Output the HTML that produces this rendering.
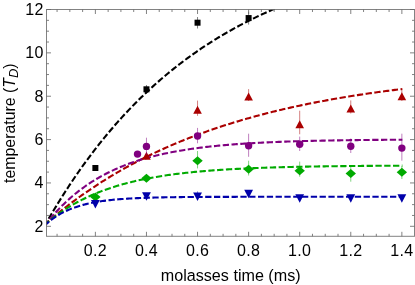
<!DOCTYPE html><html><head><meta charset="utf-8"><style>html,body{margin:0;padding:0;background:#fff;width:415px;height:285px;overflow:hidden}</style></head><body><svg width="415" height="285" viewBox="0 0 415 285" style="position:absolute;left:0;top:0;will-change:transform;opacity:0.999">
<defs><clipPath id="c"><rect x="46.5" y="9.5" width="368.0" height="226.8"/></clipPath></defs>
<rect width="415" height="285" fill="#fff"/>
<g clip-path="url(#c)" fill="none" stroke-width="2.1" stroke-dasharray="6.3 2.5">
<path d="M44.30 226.43 L45.79 223.81 L47.28 221.21 L48.78 218.63 L50.27 216.08 L51.76 213.55 L53.25 211.04 L54.74 208.56 L56.24 206.09 L57.73 203.66 L59.22 201.24 L60.71 198.85 L62.20 196.47 L63.70 194.12 L65.19 191.79 L66.68 189.48 L68.17 187.20 L69.66 184.93 L71.16 182.69 L72.65 180.46 L74.14 178.26 L75.63 176.07 L77.12 173.91 L78.62 171.76 L80.11 169.64 L81.60 167.53 L83.09 165.44 L84.58 163.38 L86.07 161.33 L87.57 159.30 L89.06 157.29 L90.55 155.29 L92.04 153.32 L93.53 151.36 L95.03 149.42 L96.52 147.50 L98.01 145.60 L99.50 143.71 L100.99 141.84 L102.49 139.99 L103.98 138.16 L105.47 136.34 L106.96 134.53 L108.45 132.75 L109.95 130.98 L111.44 129.23 L112.93 127.49 L114.42 125.77 L115.91 124.06 L117.41 122.37 L118.90 120.70 L120.39 119.04 L121.88 117.40 L123.37 115.77 L124.87 114.15 L126.36 112.55 L127.85 110.97 L129.34 109.40 L130.83 107.84 L132.33 106.30 L133.82 104.77 L135.31 103.26 L136.80 101.76 L138.29 100.27 L139.79 98.80 L141.28 97.34 L142.77 95.90 L144.26 94.46 L145.75 93.04 L147.25 91.64 L148.74 90.24 L150.23 88.86 L151.72 87.49 L153.21 86.14 L154.71 84.79 L156.20 83.46 L157.69 82.14 L159.18 80.84 L160.67 79.54 L162.16 78.26 L163.66 76.99 L165.15 75.73 L166.64 74.48 L168.13 73.24 L169.62 72.01 L171.12 70.80 L172.61 69.60 L174.10 68.40 L175.59 67.22 L177.08 66.05 L178.58 64.89 L180.07 63.74 L181.56 62.60 L183.05 61.47 L184.54 60.36 L186.04 59.25 L187.53 58.15 L189.02 57.06 L190.51 55.98 L192.00 54.91 L193.50 53.86 L194.99 52.81 L196.48 51.77 L197.97 50.74 L199.46 49.72 L200.96 48.71 L202.45 47.70 L203.94 46.71 L205.43 45.73 L206.92 44.75 L208.42 43.79 L209.91 42.83 L211.40 41.88 L212.89 40.94 L214.38 40.01 L215.88 39.09 L217.37 38.17 L218.86 37.27 L220.35 36.37 L221.84 35.48 L223.34 34.60 L224.83 33.73 L226.32 32.86 L227.81 32.01 L229.30 31.16 L230.80 30.31 L232.29 29.48 L233.78 28.65 L235.27 27.83 L236.76 27.02 L238.26 26.22 L239.75 25.42 L241.24 24.63 L242.73 23.85 L244.22 23.08 L245.71 22.31 L247.21 21.55 L248.70 20.79 L250.19 20.05 L251.68 19.31 L253.17 18.57 L254.67 17.85 L256.16 17.13 L257.65 16.41 L259.14 15.71 L260.63 15.00 L262.13 14.31 L263.62 13.62 L265.11 12.94 L266.60 12.27 L268.09 11.60 L269.59 10.93 L271.08 10.28 L272.57 9.62 L274.06 8.98 L275.55 8.34 L277.05 7.71 L278.54 7.08 L280.03 6.46 L281.52 5.84 L283.01 5.23 L284.51 4.63 L286.00 4.03 L287.49 3.43 L288.98 2.84 L290.47 2.26 L291.97 1.68 L293.46 1.11 L294.95 0.54 L296.44 -0.02 L297.93 -0.58 L299.43 -1.13 L300.92 -1.68 L302.41 -2.22 L303.90 -2.76 L305.39 -3.29 L306.89 -3.81 L308.38 -4.34 L309.87 -4.85 L311.36 -5.37 L312.85 -5.88 L314.35 -6.38 L315.84 -6.88 L317.33 -7.37 L318.82 -7.86 L320.31 -8.35 L321.80 -8.83 L323.30 -9.31 L324.79 -9.78 L326.28 -10.25 L327.77 -10.71 L329.26 -11.17 L330.76 -11.63 L332.25 -12.08 L333.74 -12.52 L335.23 -12.97 L336.72 -13.41 L338.22 -13.84 L339.71 -14.27 L341.20 -14.70 L342.69 -15.12 L344.18 -15.54 L345.68 -15.96 L347.17 -16.37 L348.66 -16.78 L350.15 -17.18 L351.64 -17.58 L353.14 -17.98 L354.63 -18.37 L356.12 -18.76 L357.61 -19.15 L359.10 -19.53 L360.60 -19.91 L362.09 -20.28 L363.58 -20.65 L365.07 -21.02 L366.56 -21.39 L368.06 -21.75 L369.55 -22.11 L371.04 -22.46 L372.53 -22.82 L374.02 -23.17 L375.52 -23.51 L377.01 -23.85 L378.50 -24.19 L379.99 -24.53 L381.48 -24.86 L382.98 -25.19 L384.47 -25.52 L385.96 -25.85 L387.45 -26.17 L388.94 -26.49 L390.44 -26.80 L391.93 -27.11 L393.42 -27.42 L394.91 -27.73 L396.40 -28.03 L397.89 -28.34 L399.39 -28.63 L400.88 -28.93 L402.37 -29.22" stroke="#000000"/>
<path d="M44.30 224.78 L45.79 223.49 L47.28 222.21 L48.78 220.93 L50.27 219.67 L51.76 218.42 L53.25 217.18 L54.74 215.95 L56.24 214.73 L57.73 213.52 L59.22 212.32 L60.71 211.13 L62.20 209.94 L63.70 208.77 L65.19 207.61 L66.68 206.46 L68.17 205.32 L69.66 204.18 L71.16 203.06 L72.65 201.94 L74.14 200.84 L75.63 199.74 L77.12 198.65 L78.62 197.57 L80.11 196.50 L81.60 195.44 L83.09 194.39 L84.58 193.35 L86.07 192.31 L87.57 191.28 L89.06 190.27 L90.55 189.26 L92.04 188.25 L93.53 187.26 L95.03 186.27 L96.52 185.30 L98.01 184.33 L99.50 183.37 L100.99 182.41 L102.49 181.47 L103.98 180.53 L105.47 179.60 L106.96 178.68 L108.45 177.76 L109.95 176.85 L111.44 175.95 L112.93 175.06 L114.42 174.18 L115.91 173.30 L117.41 172.43 L118.90 171.56 L120.39 170.71 L121.88 169.86 L123.37 169.01 L124.87 168.18 L126.36 167.35 L127.85 166.53 L129.34 165.71 L130.83 164.90 L132.33 164.10 L133.82 163.31 L135.31 162.52 L136.80 161.74 L138.29 160.96 L139.79 160.19 L141.28 159.43 L142.77 158.67 L144.26 157.92 L145.75 157.17 L147.25 156.44 L148.74 155.70 L150.23 154.98 L151.72 154.26 L153.21 153.54 L154.71 152.83 L156.20 152.13 L157.69 151.43 L159.18 150.74 L160.67 150.06 L162.16 149.38 L163.66 148.70 L165.15 148.03 L166.64 147.37 L168.13 146.71 L169.62 146.06 L171.12 145.41 L172.61 144.77 L174.10 144.13 L175.59 143.50 L177.08 142.87 L178.58 142.25 L180.07 141.64 L181.56 141.03 L183.05 140.42 L184.54 139.82 L186.04 139.22 L187.53 138.63 L189.02 138.04 L190.51 137.46 L192.00 136.89 L193.50 136.31 L194.99 135.75 L196.48 135.18 L197.97 134.63 L199.46 134.07 L200.96 133.52 L202.45 132.98 L203.94 132.44 L205.43 131.90 L206.92 131.37 L208.42 130.85 L209.91 130.32 L211.40 129.81 L212.89 129.29 L214.38 128.78 L215.88 128.28 L217.37 127.77 L218.86 127.28 L220.35 126.78 L221.84 126.29 L223.34 125.81 L224.83 125.33 L226.32 124.85 L227.81 124.38 L229.30 123.91 L230.80 123.44 L232.29 122.98 L233.78 122.52 L235.27 122.07 L236.76 121.62 L238.26 121.17 L239.75 120.73 L241.24 120.29 L242.73 119.85 L244.22 119.42 L245.71 118.99 L247.21 118.57 L248.70 118.15 L250.19 117.73 L251.68 117.31 L253.17 116.90 L254.67 116.49 L256.16 116.09 L257.65 115.69 L259.14 115.29 L260.63 114.89 L262.13 114.50 L263.62 114.11 L265.11 113.73 L266.60 113.35 L268.09 112.97 L269.59 112.59 L271.08 112.22 L272.57 111.85 L274.06 111.48 L275.55 111.12 L277.05 110.76 L278.54 110.40 L280.03 110.05 L281.52 109.69 L283.01 109.35 L284.51 109.00 L286.00 108.66 L287.49 108.32 L288.98 107.98 L290.47 107.64 L291.97 107.31 L293.46 106.98 L294.95 106.65 L296.44 106.33 L297.93 106.01 L299.43 105.69 L300.92 105.37 L302.41 105.06 L303.90 104.75 L305.39 104.44 L306.89 104.14 L308.38 103.83 L309.87 103.53 L311.36 103.23 L312.85 102.94 L314.35 102.64 L315.84 102.35 L317.33 102.06 L318.82 101.78 L320.31 101.49 L321.80 101.21 L323.30 100.93 L324.79 100.66 L326.28 100.38 L327.77 100.11 L329.26 99.84 L330.76 99.57 L332.25 99.30 L333.74 99.04 L335.23 98.78 L336.72 98.52 L338.22 98.26 L339.71 98.01 L341.20 97.75 L342.69 97.50 L344.18 97.25 L345.68 97.01 L347.17 96.76 L348.66 96.52 L350.15 96.28 L351.64 96.04 L353.14 95.80 L354.63 95.57 L356.12 95.34 L357.61 95.10 L359.10 94.87 L360.60 94.65 L362.09 94.42 L363.58 94.20 L365.07 93.98 L366.56 93.76 L368.06 93.54 L369.55 93.32 L371.04 93.11 L372.53 92.89 L374.02 92.68 L375.52 92.47 L377.01 92.27 L378.50 92.06 L379.99 91.86 L381.48 91.65 L382.98 91.45 L384.47 91.25 L385.96 91.06 L387.45 90.86 L388.94 90.67 L390.44 90.47 L391.93 90.28 L393.42 90.09 L394.91 89.90 L396.40 89.72 L397.89 89.53 L399.39 89.35 L400.88 89.17 L402.37 88.99" stroke="#aa0000"/>
<path d="M44.30 225.95 L45.79 224.04 L47.28 222.17 L48.78 220.35 L50.27 218.56 L51.76 216.81 L53.25 215.10 L54.74 213.43 L56.24 211.79 L57.73 210.19 L59.22 208.63 L60.71 207.10 L62.20 205.61 L63.70 204.14 L65.19 202.71 L66.68 201.31 L68.17 199.95 L69.66 198.61 L71.16 197.30 L72.65 196.02 L74.14 194.77 L75.63 193.55 L77.12 192.35 L78.62 191.18 L80.11 190.03 L81.60 188.92 L83.09 187.82 L84.58 186.75 L86.07 185.70 L87.57 184.68 L89.06 183.68 L90.55 182.70 L92.04 181.74 L93.53 180.81 L95.03 179.89 L96.52 178.99 L98.01 178.12 L99.50 177.26 L100.99 176.42 L102.49 175.61 L103.98 174.80 L105.47 174.02 L106.96 173.26 L108.45 172.51 L109.95 171.77 L111.44 171.06 L112.93 170.36 L114.42 169.67 L115.91 169.00 L117.41 168.35 L118.90 167.70 L120.39 167.08 L121.88 166.46 L123.37 165.86 L124.87 165.28 L126.36 164.71 L127.85 164.14 L129.34 163.60 L130.83 163.06 L132.33 162.54 L133.82 162.02 L135.31 161.52 L136.80 161.03 L138.29 160.55 L139.79 160.08 L141.28 159.62 L142.77 159.17 L144.26 158.74 L145.75 158.31 L147.25 157.89 L148.74 157.48 L150.23 157.08 L151.72 156.68 L153.21 156.30 L154.71 155.92 L156.20 155.56 L157.69 155.20 L159.18 154.85 L160.67 154.50 L162.16 154.17 L163.66 153.84 L165.15 153.52 L166.64 153.20 L168.13 152.90 L169.62 152.60 L171.12 152.30 L172.61 152.02 L174.10 151.73 L175.59 151.46 L177.08 151.19 L178.58 150.93 L180.07 150.67 L181.56 150.42 L183.05 150.17 L184.54 149.93 L186.04 149.70 L187.53 149.47 L189.02 149.24 L190.51 149.03 L192.00 148.81 L193.50 148.60 L194.99 148.39 L196.48 148.19 L197.97 148.00 L199.46 147.80 L200.96 147.62 L202.45 147.43 L203.94 147.25 L205.43 147.08 L206.92 146.90 L208.42 146.74 L209.91 146.57 L211.40 146.41 L212.89 146.25 L214.38 146.10 L215.88 145.95 L217.37 145.80 L218.86 145.66 L220.35 145.52 L221.84 145.38 L223.34 145.25 L224.83 145.11 L226.32 144.99 L227.81 144.86 L229.30 144.74 L230.80 144.62 L232.29 144.50 L233.78 144.38 L235.27 144.27 L236.76 144.16 L238.26 144.05 L239.75 143.95 L241.24 143.84 L242.73 143.74 L244.22 143.65 L245.71 143.55 L247.21 143.45 L248.70 143.36 L250.19 143.27 L251.68 143.18 L253.17 143.10 L254.67 143.01 L256.16 142.93 L257.65 142.85 L259.14 142.77 L260.63 142.69 L262.13 142.62 L263.62 142.55 L265.11 142.47 L266.60 142.40 L268.09 142.33 L269.59 142.27 L271.08 142.20 L272.57 142.14 L274.06 142.07 L275.55 142.01 L277.05 141.95 L278.54 141.89 L280.03 141.83 L281.52 141.78 L283.01 141.72 L284.51 141.67 L286.00 141.62 L287.49 141.56 L288.98 141.51 L290.47 141.47 L291.97 141.42 L293.46 141.37 L294.95 141.32 L296.44 141.28 L297.93 141.23 L299.43 141.19 L300.92 141.15 L302.41 141.11 L303.90 141.07 L305.39 141.03 L306.89 140.99 L308.38 140.95 L309.87 140.91 L311.36 140.88 L312.85 140.84 L314.35 140.81 L315.84 140.77 L317.33 140.74 L318.82 140.71 L320.31 140.68 L321.80 140.65 L323.30 140.62 L324.79 140.59 L326.28 140.56 L327.77 140.53 L329.26 140.50 L330.76 140.48 L332.25 140.45 L333.74 140.42 L335.23 140.40 L336.72 140.37 L338.22 140.35 L339.71 140.33 L341.20 140.30 L342.69 140.28 L344.18 140.26 L345.68 140.24 L347.17 140.21 L348.66 140.19 L350.15 140.17 L351.64 140.15 L353.14 140.13 L354.63 140.12 L356.12 140.10 L357.61 140.08 L359.10 140.06 L360.60 140.04 L362.09 140.03 L363.58 140.01 L365.07 139.99 L366.56 139.98 L368.06 139.96 L369.55 139.95 L371.04 139.93 L372.53 139.92 L374.02 139.90 L375.52 139.89 L377.01 139.88 L378.50 139.86 L379.99 139.85 L381.48 139.84 L382.98 139.83 L384.47 139.81 L385.96 139.80 L387.45 139.79 L388.94 139.78 L390.44 139.77 L391.93 139.76 L393.42 139.75 L394.91 139.74 L396.40 139.73 L397.89 139.72 L399.39 139.71 L400.88 139.70 L402.37 139.69" stroke="#800080"/>
<path d="M44.30 225.11 L45.79 223.81 L47.28 222.55 L48.78 221.31 L50.27 220.10 L51.76 218.92 L53.25 217.76 L54.74 216.62 L56.24 215.51 L57.73 214.43 L59.22 213.37 L60.71 212.33 L62.20 211.31 L63.70 210.32 L65.19 209.34 L66.68 208.39 L68.17 207.46 L69.66 206.55 L71.16 205.66 L72.65 204.79 L74.14 203.93 L75.63 203.10 L77.12 202.28 L78.62 201.48 L80.11 200.70 L81.60 199.93 L83.09 199.19 L84.58 198.45 L86.07 197.74 L87.57 197.04 L89.06 196.35 L90.55 195.68 L92.04 195.02 L93.53 194.38 L95.03 193.75 L96.52 193.14 L98.01 192.54 L99.50 191.95 L100.99 191.38 L102.49 190.81 L103.98 190.26 L105.47 189.72 L106.96 189.19 L108.45 188.68 L109.95 188.17 L111.44 187.68 L112.93 187.20 L114.42 186.72 L115.91 186.26 L117.41 185.81 L118.90 185.37 L120.39 184.93 L121.88 184.51 L123.37 184.10 L124.87 183.69 L126.36 183.29 L127.85 182.91 L129.34 182.53 L130.83 182.15 L132.33 181.79 L133.82 181.44 L135.31 181.09 L136.80 180.75 L138.29 180.41 L139.79 180.09 L141.28 179.77 L142.77 179.46 L144.26 179.15 L145.75 178.85 L147.25 178.56 L148.74 178.28 L150.23 178.00 L151.72 177.72 L153.21 177.46 L154.71 177.19 L156.20 176.94 L157.69 176.69 L159.18 176.44 L160.67 176.20 L162.16 175.97 L163.66 175.74 L165.15 175.51 L166.64 175.29 L168.13 175.08 L169.62 174.87 L171.12 174.66 L172.61 174.46 L174.10 174.26 L175.59 174.07 L177.08 173.88 L178.58 173.70 L180.07 173.52 L181.56 173.34 L183.05 173.17 L184.54 173.00 L186.04 172.83 L187.53 172.67 L189.02 172.51 L190.51 172.36 L192.00 172.21 L193.50 172.06 L194.99 171.91 L196.48 171.77 L197.97 171.63 L199.46 171.50 L200.96 171.36 L202.45 171.23 L203.94 171.11 L205.43 170.98 L206.92 170.86 L208.42 170.74 L209.91 170.63 L211.40 170.51 L212.89 170.40 L214.38 170.29 L215.88 170.18 L217.37 170.08 L218.86 169.98 L220.35 169.88 L221.84 169.78 L223.34 169.68 L224.83 169.59 L226.32 169.50 L227.81 169.41 L229.30 169.32 L230.80 169.24 L232.29 169.15 L233.78 169.07 L235.27 168.99 L236.76 168.91 L238.26 168.83 L239.75 168.76 L241.24 168.68 L242.73 168.61 L244.22 168.54 L245.71 168.47 L247.21 168.41 L248.70 168.34 L250.19 168.28 L251.68 168.21 L253.17 168.15 L254.67 168.09 L256.16 168.03 L257.65 167.97 L259.14 167.92 L260.63 167.86 L262.13 167.81 L263.62 167.75 L265.11 167.70 L266.60 167.65 L268.09 167.60 L269.59 167.55 L271.08 167.51 L272.57 167.46 L274.06 167.41 L275.55 167.37 L277.05 167.33 L278.54 167.28 L280.03 167.24 L281.52 167.20 L283.01 167.16 L284.51 167.12 L286.00 167.08 L287.49 167.05 L288.98 167.01 L290.47 166.97 L291.97 166.94 L293.46 166.90 L294.95 166.87 L296.44 166.84 L297.93 166.81 L299.43 166.77 L300.92 166.74 L302.41 166.71 L303.90 166.68 L305.39 166.66 L306.89 166.63 L308.38 166.60 L309.87 166.57 L311.36 166.55 L312.85 166.52 L314.35 166.50 L315.84 166.47 L317.33 166.45 L318.82 166.42 L320.31 166.40 L321.80 166.38 L323.30 166.36 L324.79 166.33 L326.28 166.31 L327.77 166.29 L329.26 166.27 L330.76 166.25 L332.25 166.23 L333.74 166.21 L335.23 166.20 L336.72 166.18 L338.22 166.16 L339.71 166.14 L341.20 166.13 L342.69 166.11 L344.18 166.09 L345.68 166.08 L347.17 166.06 L348.66 166.05 L350.15 166.03 L351.64 166.02 L353.14 166.00 L354.63 165.99 L356.12 165.97 L357.61 165.96 L359.10 165.95 L360.60 165.94 L362.09 165.92 L363.58 165.91 L365.07 165.90 L366.56 165.89 L368.06 165.88 L369.55 165.86 L371.04 165.85 L372.53 165.84 L374.02 165.83 L375.52 165.82 L377.01 165.81 L378.50 165.80 L379.99 165.79 L381.48 165.78 L382.98 165.77 L384.47 165.76 L385.96 165.76 L387.45 165.75 L388.94 165.74 L390.44 165.73 L391.93 165.72 L393.42 165.71 L394.91 165.71 L396.40 165.70 L397.89 165.69 L399.39 165.68 L400.88 165.68 L402.37 165.67" stroke="#00aa00"/>
<path d="M44.30 225.82 L45.79 224.43 L47.28 223.11 L48.78 221.84 L50.27 220.64 L51.76 219.50 L53.25 218.41 L54.74 217.37 L56.24 216.39 L57.73 215.45 L59.22 214.55 L60.71 213.70 L62.20 212.89 L63.70 212.12 L65.19 211.38 L66.68 210.68 L68.17 210.02 L69.66 209.38 L71.16 208.78 L72.65 208.20 L74.14 207.66 L75.63 207.13 L77.12 206.64 L78.62 206.17 L80.11 205.72 L81.60 205.29 L83.09 204.88 L84.58 204.49 L86.07 204.12 L87.57 203.77 L89.06 203.43 L90.55 203.11 L92.04 202.81 L93.53 202.52 L95.03 202.25 L96.52 201.98 L98.01 201.73 L99.50 201.50 L100.99 201.27 L102.49 201.05 L103.98 200.85 L105.47 200.65 L106.96 200.47 L108.45 200.29 L109.95 200.12 L111.44 199.96 L112.93 199.81 L114.42 199.66 L115.91 199.53 L117.41 199.39 L118.90 199.27 L120.39 199.15 L121.88 199.03 L123.37 198.93 L124.87 198.82 L126.36 198.72 L127.85 198.63 L129.34 198.54 L130.83 198.46 L132.33 198.38 L133.82 198.30 L135.31 198.23 L136.80 198.16 L138.29 198.09 L139.79 198.03 L141.28 197.97 L142.77 197.91 L144.26 197.86 L145.75 197.80 L147.25 197.75 L148.74 197.71 L150.23 197.66 L151.72 197.62 L153.21 197.58 L154.71 197.54 L156.20 197.50 L157.69 197.47 L159.18 197.43 L160.67 197.40 L162.16 197.37 L163.66 197.34 L165.15 197.32 L166.64 197.29 L168.13 197.27 L169.62 197.24 L171.12 197.22 L172.61 197.20 L174.10 197.18 L175.59 197.16 L177.08 197.14 L178.58 197.12 L180.07 197.11 L181.56 197.09 L183.05 197.07 L184.54 197.06 L186.04 197.05 L187.53 197.03 L189.02 197.02 L190.51 197.01 L192.00 197.00 L193.50 196.99 L194.99 196.98 L196.48 196.97 L197.97 196.96 L199.46 196.95 L200.96 196.94 L202.45 196.93 L203.94 196.92 L205.43 196.92 L206.92 196.91 L208.42 196.90 L209.91 196.90 L211.40 196.89 L212.89 196.89 L214.38 196.88 L215.88 196.87 L217.37 196.87 L218.86 196.86 L220.35 196.86 L221.84 196.86 L223.34 196.85 L224.83 196.85 L226.32 196.84 L227.81 196.84 L229.30 196.84 L230.80 196.83 L232.29 196.83 L233.78 196.83 L235.27 196.83 L236.76 196.82 L238.26 196.82 L239.75 196.82 L241.24 196.82 L242.73 196.81 L244.22 196.81 L245.71 196.81 L247.21 196.81 L248.70 196.81 L250.19 196.81 L251.68 196.80 L253.17 196.80 L254.67 196.80 L256.16 196.80 L257.65 196.80 L259.14 196.80 L260.63 196.80 L262.13 196.79 L263.62 196.79 L265.11 196.79 L266.60 196.79 L268.09 196.79 L269.59 196.79 L271.08 196.79 L272.57 196.79 L274.06 196.79 L275.55 196.79 L277.05 196.79 L278.54 196.78 L280.03 196.78 L281.52 196.78 L283.01 196.78 L284.51 196.78 L286.00 196.78 L287.49 196.78 L288.98 196.78 L290.47 196.78 L291.97 196.78 L293.46 196.78 L294.95 196.78 L296.44 196.78 L297.93 196.78 L299.43 196.78 L300.92 196.78 L302.41 196.78 L303.90 196.78 L305.39 196.78 L306.89 196.78 L308.38 196.78 L309.87 196.78 L311.36 196.78 L312.85 196.78 L314.35 196.78 L315.84 196.78 L317.33 196.78 L318.82 196.78 L320.31 196.78 L321.80 196.77 L323.30 196.77 L324.79 196.77 L326.28 196.77 L327.77 196.77 L329.26 196.77 L330.76 196.77 L332.25 196.77 L333.74 196.77 L335.23 196.77 L336.72 196.77 L338.22 196.77 L339.71 196.77 L341.20 196.77 L342.69 196.77 L344.18 196.77 L345.68 196.77 L347.17 196.77 L348.66 196.77 L350.15 196.77 L351.64 196.77 L353.14 196.77 L354.63 196.77 L356.12 196.77 L357.61 196.77 L359.10 196.77 L360.60 196.77 L362.09 196.77 L363.58 196.77 L365.07 196.77 L366.56 196.77 L368.06 196.77 L369.55 196.77 L371.04 196.77 L372.53 196.77 L374.02 196.77 L375.52 196.77 L377.01 196.77 L378.50 196.77 L379.99 196.77 L381.48 196.77 L382.98 196.77 L384.47 196.77 L385.96 196.77 L387.45 196.77 L388.94 196.77 L390.44 196.77 L391.93 196.77 L393.42 196.77 L394.91 196.77 L396.40 196.77 L397.89 196.77 L399.39 196.77 L400.88 196.77 L402.37 196.77" stroke="#0000aa"/>
</g>

<rect x="92.38" y="165.00" width="6" height="6" fill="#000000"/>
<line x1="146.46" y1="85.00" x2="146.46" y2="93.70" stroke="#000000" stroke-width="1" opacity="0.50"/>
<rect x="143.46" y="86.30" width="6" height="6" fill="#000000"/>
<line x1="197.54" y1="17.00" x2="197.54" y2="28.50" stroke="#000000" stroke-width="1" opacity="0.50"/>
<rect x="194.54" y="19.70" width="6" height="6" fill="#000000"/>
<line x1="248.62" y1="11.60" x2="248.62" y2="24.60" stroke="#000000" stroke-width="1" opacity="0.50"/>
<rect x="245.62" y="15.06" width="6" height="6" fill="#000000"/>

<path d="M146.46 151.70 L150.76 159.70 L142.16 159.70 Z" fill="#aa0000"/>
<line x1="197.54" y1="100.60" x2="197.54" y2="115.80" stroke="#aa0000" stroke-width="1" opacity="0.50"/>
<path d="M197.54 105.70 L201.84 113.70 L193.24 113.70 Z" fill="#aa0000"/>
<line x1="248.62" y1="89.10" x2="248.62" y2="101.00" stroke="#aa0000" stroke-width="1" opacity="0.50"/>
<path d="M248.62 92.60 L252.92 100.60 L244.32 100.60 Z" fill="#aa0000"/>
<line x1="299.70" y1="110.70" x2="299.70" y2="134.30" stroke="#aa0000" stroke-width="1" opacity="0.50"/>
<path d="M299.70 120.20 L304.00 128.20 L295.40 128.20 Z" fill="#aa0000"/>
<line x1="350.78" y1="100.40" x2="350.78" y2="113.50" stroke="#aa0000" stroke-width="1" opacity="0.50"/>
<path d="M350.78 104.60 L355.08 112.60 L346.48 112.60 Z" fill="#aa0000"/>
<line x1="401.86" y1="90.00" x2="401.86" y2="101.00" stroke="#aa0000" stroke-width="1" opacity="0.50"/>
<path d="M401.86 92.30 L406.16 100.30 L397.56 100.30 Z" fill="#aa0000"/>

<circle cx="137.52" cy="154.10" r="3.7" fill="#800080"/>
<line x1="146.46" y1="137.70" x2="146.46" y2="155.00" stroke="#800080" stroke-width="1" opacity="0.50"/>
<circle cx="146.46" cy="146.40" r="3.7" fill="#800080"/>
<line x1="197.54" y1="127.90" x2="197.54" y2="143.30" stroke="#800080" stroke-width="1" opacity="0.50"/>
<circle cx="197.54" cy="136.00" r="3.7" fill="#800080"/>
<line x1="248.62" y1="133.70" x2="248.62" y2="156.80" stroke="#800080" stroke-width="1" opacity="0.50"/>
<circle cx="248.62" cy="145.80" r="3.7" fill="#800080"/>
<line x1="299.70" y1="136.60" x2="299.70" y2="151.00" stroke="#800080" stroke-width="1" opacity="0.50"/>
<circle cx="299.70" cy="144.30" r="3.7" fill="#800080"/>
<line x1="350.78" y1="138.50" x2="350.78" y2="153.00" stroke="#800080" stroke-width="1" opacity="0.50"/>
<circle cx="350.78" cy="146.20" r="3.7" fill="#800080"/>
<line x1="401.86" y1="133.70" x2="401.86" y2="160.70" stroke="#800080" stroke-width="1" opacity="0.50"/>
<circle cx="401.86" cy="148.10" r="3.7" fill="#800080"/>

<path d="M95.38 192.50 L100.58 197.00 L95.38 201.50 L90.18 197.00 Z" fill="#00aa00"/>

<path d="M146.46 173.70 L151.66 178.20 L146.46 182.70 L141.26 178.20 Z" fill="#00aa00"/>
<line x1="197.54" y1="151.00" x2="197.54" y2="168.40" stroke="#00aa00" stroke-width="1" opacity="0.50"/>
<path d="M197.54 156.20 L202.74 160.70 L197.54 165.20 L192.34 160.70 Z" fill="#00aa00"/>
<line x1="248.62" y1="160.70" x2="248.62" y2="175.50" stroke="#00aa00" stroke-width="1" opacity="0.50"/>
<path d="M248.62 164.80 L253.82 169.30 L248.62 173.80 L243.42 169.30 Z" fill="#00aa00"/>
<line x1="299.70" y1="161.60" x2="299.70" y2="176.70" stroke="#00aa00" stroke-width="1" opacity="0.50"/>
<path d="M299.70 166.20 L304.90 170.70 L299.70 175.20 L294.50 170.70 Z" fill="#00aa00"/>
<line x1="350.78" y1="166.00" x2="350.78" y2="181.70" stroke="#00aa00" stroke-width="1" opacity="0.50"/>
<path d="M350.78 169.10 L355.98 173.60 L350.78 178.10 L345.58 173.60 Z" fill="#00aa00"/>
<line x1="401.86" y1="166.00" x2="401.86" y2="179.00" stroke="#00aa00" stroke-width="1" opacity="0.50"/>
<path d="M401.86 167.70 L407.06 172.20 L401.86 176.70 L396.66 172.20 Z" fill="#00aa00"/>

<path d="M95.38 208.50 L99.78 200.00 L90.98 200.00 Z" fill="#0000aa"/>

<path d="M146.46 200.70 L150.86 192.20 L142.06 192.20 Z" fill="#0000aa"/>
<line x1="197.54" y1="191.40" x2="197.54" y2="199.00" stroke="#0000aa" stroke-width="1" opacity="0.50"/>
<path d="M197.54 200.90 L201.94 192.40 L193.14 192.40 Z" fill="#0000aa"/>

<path d="M248.62 198.30 L253.02 189.80 L244.22 189.80 Z" fill="#0000aa"/>

<path d="M299.70 202.70 L304.10 194.20 L295.30 194.20 Z" fill="#0000aa"/>

<path d="M350.78 202.70 L355.18 194.20 L346.38 194.20 Z" fill="#0000aa"/>

<path d="M401.86 202.70 L406.26 194.20 L397.46 194.20 Z" fill="#0000aa"/>
<g stroke="#666" stroke-opacity="0.82" stroke-width="1" fill="none">
<rect x="46.5" y="9.5" width="368.0" height="226.8"/>
<path d="M57.07 236.3 v-2.5 M57.07 9.5 v2.5"/>
<path d="M69.84 236.3 v-2.5 M69.84 9.5 v2.5"/>
<path d="M82.61 236.3 v-2.5 M82.61 9.5 v2.5"/>
<path d="M95.38 236.3 v-4.5 M95.38 9.5 v4.5"/>
<path d="M108.15 236.3 v-2.5 M108.15 9.5 v2.5"/>
<path d="M120.92 236.3 v-2.5 M120.92 9.5 v2.5"/>
<path d="M133.69 236.3 v-2.5 M133.69 9.5 v2.5"/>
<path d="M146.46 236.3 v-4.5 M146.46 9.5 v4.5"/>
<path d="M159.23 236.3 v-2.5 M159.23 9.5 v2.5"/>
<path d="M172.00 236.3 v-2.5 M172.00 9.5 v2.5"/>
<path d="M184.77 236.3 v-2.5 M184.77 9.5 v2.5"/>
<path d="M197.54 236.3 v-4.5 M197.54 9.5 v4.5"/>
<path d="M210.31 236.3 v-2.5 M210.31 9.5 v2.5"/>
<path d="M223.08 236.3 v-2.5 M223.08 9.5 v2.5"/>
<path d="M235.85 236.3 v-2.5 M235.85 9.5 v2.5"/>
<path d="M248.62 236.3 v-4.5 M248.62 9.5 v4.5"/>
<path d="M261.39 236.3 v-2.5 M261.39 9.5 v2.5"/>
<path d="M274.16 236.3 v-2.5 M274.16 9.5 v2.5"/>
<path d="M286.93 236.3 v-2.5 M286.93 9.5 v2.5"/>
<path d="M299.70 236.3 v-4.5 M299.70 9.5 v4.5"/>
<path d="M312.47 236.3 v-2.5 M312.47 9.5 v2.5"/>
<path d="M325.24 236.3 v-2.5 M325.24 9.5 v2.5"/>
<path d="M338.01 236.3 v-2.5 M338.01 9.5 v2.5"/>
<path d="M350.78 236.3 v-4.5 M350.78 9.5 v4.5"/>
<path d="M363.55 236.3 v-2.5 M363.55 9.5 v2.5"/>
<path d="M376.32 236.3 v-2.5 M376.32 9.5 v2.5"/>
<path d="M389.09 236.3 v-2.5 M389.09 9.5 v2.5"/>
<path d="M401.86 236.3 v-4.5 M401.86 9.5 v4.5"/>
<path d="M46.5 226.30 h4.5 M414.5 226.30 h-4.5"/>
<path d="M46.5 215.46 h2.5 M414.5 215.46 h-2.5"/>
<path d="M46.5 204.62 h2.5 M414.5 204.62 h-2.5"/>
<path d="M46.5 193.78 h2.5 M414.5 193.78 h-2.5"/>
<path d="M46.5 182.94 h4.5 M414.5 182.94 h-4.5"/>
<path d="M46.5 172.10 h2.5 M414.5 172.10 h-2.5"/>
<path d="M46.5 161.26 h2.5 M414.5 161.26 h-2.5"/>
<path d="M46.5 150.42 h2.5 M414.5 150.42 h-2.5"/>
<path d="M46.5 139.58 h4.5 M414.5 139.58 h-4.5"/>
<path d="M46.5 128.74 h2.5 M414.5 128.74 h-2.5"/>
<path d="M46.5 117.90 h2.5 M414.5 117.90 h-2.5"/>
<path d="M46.5 107.06 h2.5 M414.5 107.06 h-2.5"/>
<path d="M46.5 96.22 h4.5 M414.5 96.22 h-4.5"/>
<path d="M46.5 85.38 h2.5 M414.5 85.38 h-2.5"/>
<path d="M46.5 74.54 h2.5 M414.5 74.54 h-2.5"/>
<path d="M46.5 63.70 h2.5 M414.5 63.70 h-2.5"/>
<path d="M46.5 52.86 h4.5 M414.5 52.86 h-4.5"/>
<path d="M46.5 42.02 h2.5 M414.5 42.02 h-2.5"/>
<path d="M46.5 31.18 h2.5 M414.5 31.18 h-2.5"/>
<path d="M46.5 20.34 h2.5 M414.5 20.34 h-2.5"/>
<path d="M46.5 9.50 h4.5 M414.5 9.50 h-4.5"/>
</g>
<g font-family="Liberation Sans, sans-serif" font-size="16" fill="#000">
<text x="43.6" y="231.85" text-anchor="end" font-size="16" letter-spacing="0.3">2</text>
<text x="43.6" y="188.49" text-anchor="end" font-size="16" letter-spacing="0.3">4</text>
<text x="43.6" y="145.13" text-anchor="end" font-size="16" letter-spacing="0.3">6</text>
<text x="43.6" y="101.77" text-anchor="end" font-size="16" letter-spacing="0.3">8</text>
<text x="43.6" y="58.41" text-anchor="end" font-size="16" letter-spacing="0.3">10</text>
<text x="43.6" y="15.05" text-anchor="end" font-size="16" letter-spacing="0.3">12</text>
<text x="95.38" y="255.9" text-anchor="middle" font-size="16" letter-spacing="0.3">0.2</text>
<text x="146.46" y="255.9" text-anchor="middle" font-size="16" letter-spacing="0.3">0.4</text>
<text x="197.54" y="255.9" text-anchor="middle" font-size="16" letter-spacing="0.3">0.6</text>
<text x="248.62" y="255.9" text-anchor="middle" font-size="16" letter-spacing="0.3">0.8</text>
<text x="299.70" y="255.9" text-anchor="middle" font-size="16" letter-spacing="0.3">1.0</text>
<text x="350.78" y="255.9" text-anchor="middle" font-size="16" letter-spacing="0.3">1.2</text>
<text x="401.86" y="255.9" text-anchor="middle" font-size="16" letter-spacing="0.3">1.4</text>
<text x="230.7" y="280.5" text-anchor="middle" font-size="16.15">molasses time (ms)</text>
<text transform="translate(15 123.15) rotate(-90)" text-anchor="middle" font-size="15.85">temperature (<tspan font-style="italic">T</tspan><tspan font-style="italic" font-size="13" dy="3.2">D</tspan><tspan dy="-3.2">)</tspan></text>
</g>
</svg></body></html>
